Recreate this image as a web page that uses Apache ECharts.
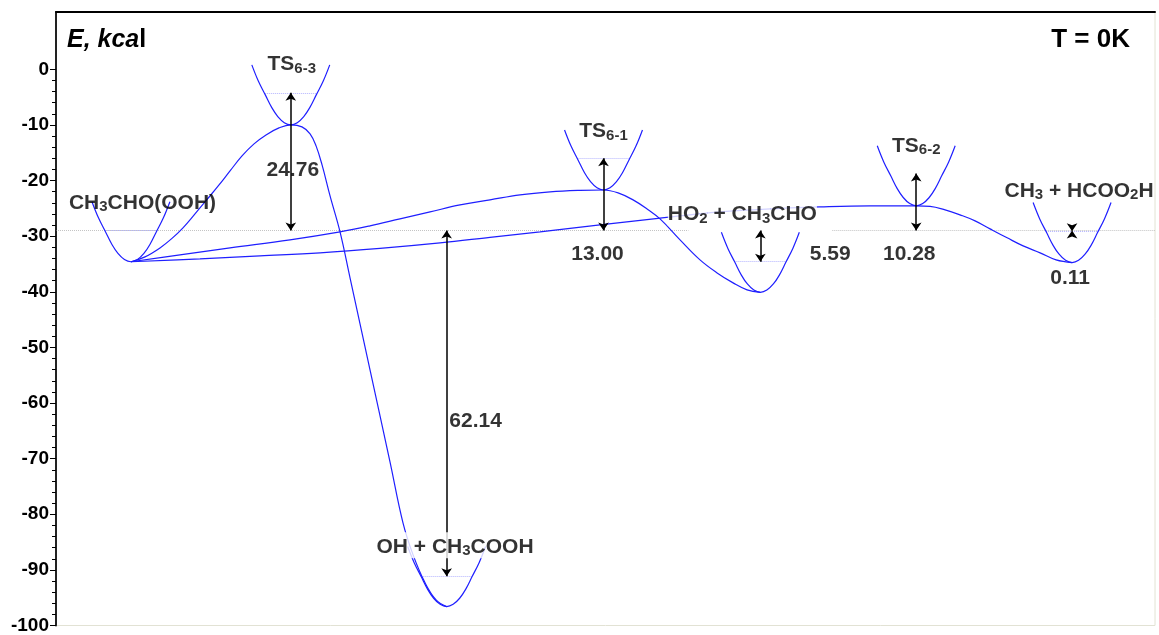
<!DOCTYPE html>
<html><head><meta charset="utf-8">
<script src="https://cdn.jsdelivr.net/npm/echarts@6/dist/echarts.min.js"></script>
<style>html,body{margin:0;padding:0;background:#fff}#c{width:1159px;height:635px}</style>
</head><body><div id="c"></div>
<script>
// ---------- data (energies in kcal, x = reaction coordinate units) ----------
const yTickValues = [-100, -90, -80, -70, -60, -50, -40, -30, -20, -10, 0];
const yTickLabels = ['-100', '-90', '-80', '-70', '-60', '-50', '-40', '-30', '-20', '-10', '0'];

const speciesRich = [
  '{n|CH}{s|3}{n|CHO(OOH)}',
  '{n|TS}{s|6-3}',
  '{nb|OH + CH}{sb|3}{nb|COOH}',
  '{n|TS}{s|6-1}',
  '{nb|HO}{sb|2}{nb| + CH}{sb|3}{nb|CHO}',
  '{n|TS}{s|6-2}',
  '{n|CH}{s|3}{n| + HCOO}{s|2}{n|H}'
];
const wellX = [7.5, 23.5, 39.1, 54.8, 70.5, 86.1, 101.7];
const wellE = [-34.6, -10.0, -96.6, -21.7, -40.1, -24.55, -34.75];
const zpeE = [-29.0, -4.24, -91.14, -16.0, -34.59, -18.72, -29.11];
const zpeShown = [true, true, true, true, true, false, true];
const refLevel = -29.0;
const refSegments = [[0, 63.3], [77.7, 110]];

const wellProfileDx = [-3.9, -3.25, -2.55, -1.9, -1.3, -0.65, 0, 0.65, 1.3, 1.9, 2.55, 3.25, 3.9];
const wellProfileDy = [10.8, 7.9, 5.4, 3.1, 1.5, 0.4, 0, 0.4, 1.5, 3.1, 5.4, 7.9, 10.8];
const zpeHalfWidth = 2.6;

// path via TS6-3 to OH + CH3COOH
const pathA_x = [7.5, 8.91, 10.41, 11.61, 12.71, 13.91, 15.12, 16.32, 17.42, 18.62, 19.82, 21.02, 22.32, 23.5,
  24.62, 25.43, 26.03, 26.63, 27.43, 28.43, 29.43, 31.43, 33.43, 34.73, 35.74, 36.94, 38.04, 39.1];
const pathA_y = [-34.6, -33.72, -32.11, -30.4, -28.5, -26.0, -23.4, -20.8, -18.27, -15.57, -13.41, -11.8, -10.54, -10.0,
  -10.36, -11.62, -13.77, -17.19, -22.76, -29.23, -37.5, -54.04, -70.58, -81.55, -87.3, -92.33, -95.39, -96.6];
// path via TS6-1 to HO2 + CH3CHO
const pathB_x = [7.5, 12.41, 17.42, 23.42, 28.43, 31.43, 34.43, 37.44, 40.44, 43.44, 46.45, 49.45, 52.45, 54.8,
  56.26, 57.76, 59.16, 60.46, 62.46, 64.46, 66.17, 67.77, 69.17, 70.5];
const pathB_y = [-34.6, -33.36, -32.11, -30.67, -29.23, -28.15, -26.9, -25.64, -24.38, -23.48, -22.58, -22.04, -21.77, -21.7,
  -22.22, -23.48, -25.1, -26.9, -30.67, -34.27, -36.61, -38.4, -39.66, -40.1];
// path via TS6-2 to CH3 + HCOO2H
const pathC_x = [7.5, 14.41, 20.42, 26.43, 32.43, 38.44, 43.44, 48.45, 54.45, 60.26, 66.47, 72.47, 76.48, 81.48, 86.1,
  87.49, 88.99, 90.49, 91.99, 93.49, 95.2, 96.8, 98.5, 100.1, 101.7];
const pathC_y = [-34.6, -34.08, -33.55, -33.0, -32.2, -31.21, -30.22, -29.23, -27.97, -26.8, -25.64, -25.01, -24.74, -24.56, -24.55,
  -24.65, -25.28, -26.18, -27.25, -28.69, -30.3, -31.75, -33.0, -34.27, -34.75];

const barrierText = ['24.76', '62.14', '13.00', '5.59', '10.28', '0.11'];
const barrierWell = [1, 2, 3, 4, 5, 6];
const barrierLabelX = [23.7, 42.0, 54.2, 77.5, 85.4, 101.5];
const barrierLabelY = [-18.1, -63.2, -33.2, -33.2, -33.2, -37.5];

const speciesLabelX = [8.66, 23.6, 39.94, 54.8, 68.7, 86.1, 102.4];
const speciesLabelY = [-23.2, 1.69, -85.05, -10.4, -25.3, -12.96, -21.05];

// ---------- build ----------
const BLUE = '#1f1fff';
const minorValues = [];
for (let i = 0; i < yTickValues.length - 1; i++) {
  for (let k = 1; k < 5; k++) minorValues.push(yTickValues[i] + k * (yTickValues[i + 1] - yTickValues[i]) / 5);
}
const zip = (xs, ys) => xs.map((x, i) => [x, ys[i]]);

const series = [];
wellX.forEach((cx, i) => {
  series.push({
    type: 'line', smooth: 0.4, symbol: 'none', z: 3,
    lineStyle: { color: BLUE, width: 1.2 },
    data: wellProfileDx.map((dx, j) => [cx + dx, wellE[i] + wellProfileDy[j]])
  });
});
[[pathA_x, pathA_y], [pathB_x, pathB_y], [pathC_x, pathC_y]].forEach(p => {
  series.push({
    type: 'line', smooth: 0.4, symbol: 'none', z: 3,
    lineStyle: { color: BLUE, width: 1.2 },
    data: zip(p[0], p[1])
  });
});
series.push({
  type: 'lines', coordinateSystem: 'cartesian2d', z: 2, symbol: 'none',
  lineStyle: { color: '#8a8a8a', type: 'dotted', width: 1 },
  data: refSegments.map(s => ({ coords: [[s[0], refLevel], [s[1], refLevel]] }))
});
series.push({
  type: 'lines', coordinateSystem: 'cartesian2d', z: 2, symbol: 'none',
  lineStyle: { color: '#6a6aff', type: 'dotted', width: 1 },
  data: wellX.map((cx, i) => zpeShown[i] ? { coords: [[cx - zpeHalfWidth, zpeE[i]], [cx + zpeHalfWidth, zpeE[i]]] } : null).filter(Boolean)
});
series.push({
  type: 'lines', coordinateSystem: 'cartesian2d', z: 4,
  symbol: ['arrow', 'arrow'], symbolSize: 8,
  lineStyle: { color: '#000', width: 1.5, opacity: 1 },
  data: barrierWell.map(w => ({ coords: [[wellX[w], refLevel], [wellX[w], zpeE[w]]] }))
});
const FONT = 'Liberation Sans';
const nStyle = { fontSize: 21, fontWeight: 'bold', fontFamily: FONT, color: '#000', lineHeight: 20, padding: [4, 0, 1, 0], verticalAlign: 'top', textBorderWidth: 0 };
const sStyle = { fontSize: 15, fontWeight: 'bold', fontFamily: FONT, color: '#000', lineHeight: 14, padding: [11, 0, 0, 0], verticalAlign: 'top', textBorderWidth: 0 };
const richStyles = {
  n: nStyle, s: sStyle,
  nb: Object.assign({}, nStyle, { backgroundColor: '#fff' }),
  sb: Object.assign({}, sStyle, { backgroundColor: '#fff' })
};
series.push({
  type: 'scatter', z: 20, zlevel: 1, symbolSize: 1, itemStyle: { color: 'rgba(0,0,0,0)' }, silent: true,
  label: {
    show: true, position: 'inside', offset: [0, -1], textBorderWidth: 0,
    formatter: p => speciesRich[p.dataIndex], rich: richStyles
  },
  labelLayout: { hideOverlap: false },
  data: zip(speciesLabelX, speciesLabelY)
});
series.push({
  type: 'scatter', z: 20, zlevel: 1, symbolSize: 1, itemStyle: { color: 'rgba(0,0,0,0)' }, silent: true,
  label: {
    show: true, position: 'inside', textBorderWidth: 0,
    formatter: p => barrierText[p.dataIndex],
    fontSize: 21, fontWeight: 'bold', fontFamily: FONT, color: '#000'
  },
  data: zip(barrierLabelX, barrierLabelY)
});

const chart = echarts.init(document.getElementById('c'), null, { renderer: 'canvas' });
chart.setOption({
  animation: false,
  backgroundColor: '#fff',
  title: [
    {
      text: '{i|E, kca}{b|l}', left: 62, top: 22,
      textStyle: { rich: {
        i: { fontSize: 25, fontWeight: 'bold', fontStyle: 'italic', fontFamily: FONT, color: '#000', lineHeight: 27 },
        b: { fontSize: 25, fontWeight: 'bold', fontFamily: FONT, color: '#000', lineHeight: 27 }
      } }
    },
    {
      text: 'T = 0K', right: 24, top: 21,
      textStyle: { fontSize: 26, fontWeight: 'bold', fontFamily: FONT, color: '#000', lineHeight: 28 }
    }
  ],
  grid: { left: 56, right: 4, top: 12, bottom: 9.4, show: true, borderColor: '#e2e2d4', borderWidth: 1 },
  xAxis: {
    type: 'value', min: 0, max: 110, position: 'top',
    axisLine: { show: true, onZero: false, lineStyle: { color: '#000', width: 2 } },
    axisTick: { show: false }, axisLabel: { show: false }, splitLine: { show: false }
  },
  yAxis: [
    {
      type: 'value', min: -100, max: 10.3, position: 'left',
      axisLine: { show: true, onZero: false, lineStyle: { color: '#222', width: 2 } },
      axisTick: { show: true, customValues: yTickValues, length: 6, lineStyle: { color: '#000', width: 1 } },
      axisLabel: {
        show: true, customValues: yTickValues, margin: 7,
        formatter: v => yTickLabels[yTickValues.indexOf(Math.round(v))] ?? '',
        fontSize: 19, fontWeight: 'bold', fontFamily: FONT, color: '#000'
      },
      splitLine: { show: false }
    },
    {
      type: 'value', min: -100, max: 10.3, position: 'left',
      axisLine: { show: false, onZero: false },
      axisTick: { show: true, customValues: minorValues, length: 4, lineStyle: { color: '#000', width: 1 } },
      axisLabel: { show: false }, splitLine: { show: false }
    }
  ],
  series: series
});
</script>
</body></html>
